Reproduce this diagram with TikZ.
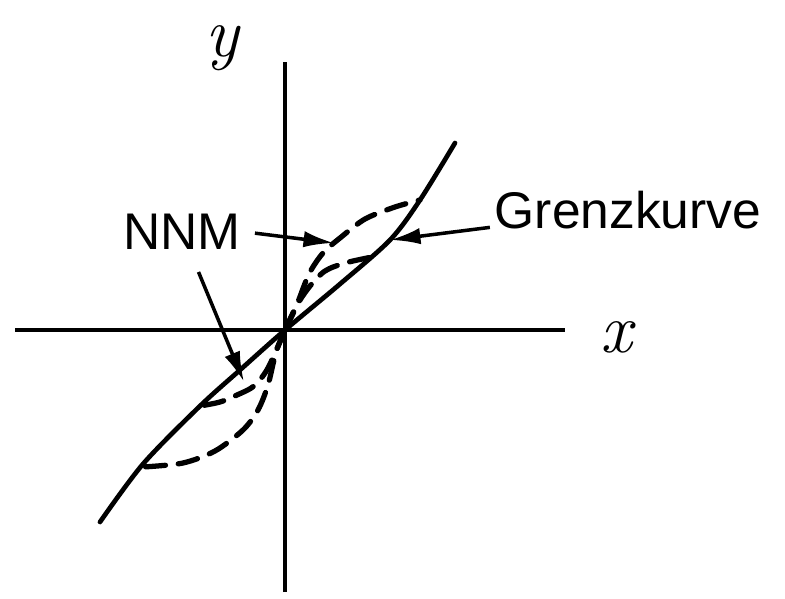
\documentclass[tikz,border=0pt]{standalone}
\usepackage{fontspec}
\newfontfamily\handfont{Liberation Sans}
\usetikzlibrary{arrows.meta}

\begin{document}
\begin{tikzpicture}[
  x=0.03cm, y=-0.03cm,
  axisline/.style={line width=3.5pt},
  boundary/.style={line width=4pt, line cap=round},
  nnmcurve/.style={line width=4.5pt, dash pattern=on 17pt off 11pt, line cap=round},
  tag/.style={font=\handfont\fontsize{44}{48}\selectfont, inner sep=4pt},
  vartag/.style={font=\fontsize{60}{64}\selectfont\itshape, inner sep=3pt},
  pointer/.style={-{Latex[length=26pt,width=14pt]}, line width=3pt}
]
  \useasboundingbox (0,0) rectangle (785,599);

  % axes
  \coordinate (xmin) at (15,330);
  \coordinate (xmax) at (565,330);
  \coordinate (ymin) at (285,592);
  \coordinate (ymax) at (285,62);
  \draw[axisline] (xmin) -- (xmax);
  \draw[axisline] (ymin) -- (ymax);
  \node[vartag] (xlab) at (616,337) {x};
  \node[vartag] (ylab) at (222,48) {y};

  % limit curve
  \draw[boundary] plot[smooth] coordinates {(100,522) (143,464) (200,406) (240,370) (285,330) (340,284) (390,240) (420,200) (455,143)};

  % NNM branches
  \draw[nnmcurve] plot[smooth] coordinates {(285,330) (296,307) (309,274) (323,253) (340,238) (365,219) (395,207) (420,200)};
  \draw[nnmcurve] plot[smooth] coordinates {(285,330) (297,305) (310,286) (325,271) (345,263) (372,257)};
  \draw[nnmcurve] plot[smooth] coordinates {(285,330) (276,352) (268,385) (258,410) (243,430) (215,451) (183,463) (143,467)};
  \draw[nnmcurve] plot[smooth] coordinates {(285,330) (268,368) (254,386) (237,395) (220,402) (200,406)};

  % labels
  \node[tag] (nnm) at (182,232) {NNM};
  \node[tag] (gk) at (628,210) {Grenzkurve};

  \coordinate (nnmtipA) at (334,243);
  \coordinate (nnmtipB) at (244,382);
  \coordinate (gktip) at (390,240);
  \draw[pointer, shorten <=8pt] (nnm.east) -- (nnmtipA);
  \draw[pointer, shorten <=16pt] (nnm) -- (nnmtipB);
  \draw[pointer] (gk) -- (gktip);
\end{tikzpicture}
\end{document}
